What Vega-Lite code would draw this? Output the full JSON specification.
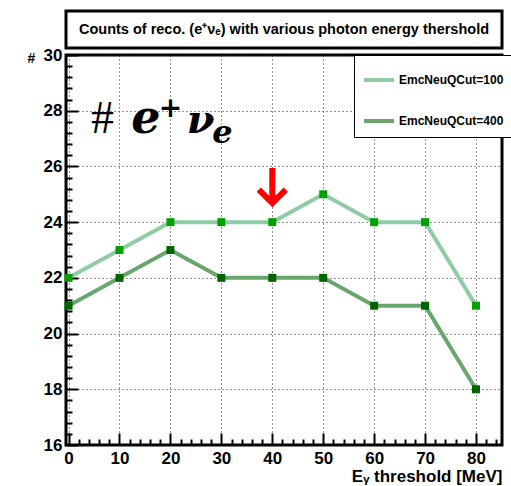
{
  "$schema": "https://vega.github.io/schema/vega-lite/v6.json",
  "padding": {"left": 25, "top": 9, "right": 5, "bottom": 5},
  "spacing": 7,
  "bounds": "flush",
  "background": "white",
  "config": {
    "view": {"stroke": "black", "strokeWidth": 3},
    "axis": {"labelFont": "Liberation Sans", "labelFontWeight": "bold", "labelFontSize": 17, "labelColor": "black", "titleFont": "Liberation Sans", "titleFontWeight": "bold", "titleColor": "black", "domain": false, "tickColor": "black", "tickWidth": 2, "gridColor": "#222", "gridDash": [1, 3], "gridWidth": 1, "labelOverlap": false, "tickCount": 200}
  },
  "resolve": {"legend": {"color": "independent"}},
  "vconcat": [
    {
      "width": 436,
      "height": 37,
      "view": {"stroke": "black", "strokeWidth": 3},
      "data": {"values": [{"title": "Counts of reco. (e⁺νₑ) with various photon energy thershold"}]},
      "mark": {"type": "text", "font": "Liberation Sans", "fontWeight": "bold", "fontSize": 14.5, "color": "black"},
      "encoding": {"text": {"field": "title", "type": "nominal"}}
    },
    {
      "width": 436,
      "height": 390,
      "layer": [
        {
          "data": {"values": [
            {"cut": "EmcNeuQCut=100", "E": 0, "n": 22},
            {"cut": "EmcNeuQCut=100", "E": 10, "n": 23},
            {"cut": "EmcNeuQCut=100", "E": 20, "n": 24},
            {"cut": "EmcNeuQCut=100", "E": 30, "n": 24},
            {"cut": "EmcNeuQCut=100", "E": 40, "n": 24},
            {"cut": "EmcNeuQCut=100", "E": 50, "n": 25},
            {"cut": "EmcNeuQCut=100", "E": 60, "n": 24},
            {"cut": "EmcNeuQCut=100", "E": 70, "n": 24},
            {"cut": "EmcNeuQCut=100", "E": 80, "n": 21},
            {"cut": "EmcNeuQCut=400", "E": 0, "n": 21},
            {"cut": "EmcNeuQCut=400", "E": 10, "n": 22},
            {"cut": "EmcNeuQCut=400", "E": 20, "n": 23},
            {"cut": "EmcNeuQCut=400", "E": 30, "n": 22},
            {"cut": "EmcNeuQCut=400", "E": 40, "n": 22},
            {"cut": "EmcNeuQCut=400", "E": 50, "n": 22},
            {"cut": "EmcNeuQCut=400", "E": 60, "n": 21},
            {"cut": "EmcNeuQCut=400", "E": 70, "n": 21},
            {"cut": "EmcNeuQCut=400", "E": 80, "n": 18}
          ]},
          "layer": [
            {
              "mark": {"type": "line", "strokeWidth": 4},
              "encoding": {
                "x": {"field": "E", "type": "quantitative", "scale": {"domain": [-0.5, 85.1], "nice": false, "zero": false},
                  "axis": {"title": "Eᵧ threshold [MeV]", "titleFontSize": 17, "titleAnchor": "end", "titleBaseline": "top", "titleY": 23, "tickCount": 200,
                    "values": [0,2,4,6,8,10,12,14,16,18,20,22,24,26,28,30,32,34,36,38,40,42,44,46,48,50,52,54,56,58,60,62,64,66,68,70,72,74,76,78,80,82,84],
                    "labelExpr": "datum.value % 10 === 0 ? format(datum.value, 'd') : ''",
                    "tickSize": {"condition": {"test": "datum.value % 10 === 0", "value": -12}, "value": -6},
                    "gridOpacity": {"condition": {"test": "datum.value % 10 === 0", "value": 1}, "value": 0},
                    "labelPadding": 17, "labelFlush": false}},
                "y": {"field": "n", "type": "quantitative", "scale": {"domain": [16, 30], "nice": false, "zero": false},
                  "axis": {"title": "#", "titleAngle": 0, "titleX": -35, "titleY": 3, "titleFontSize": 14, "titleAlign": "center", "titleBaseline": "middle", "tickCount": 200,
                    "values": [16,16.4,16.8,17.2,17.6,18,18.4,18.8,19.2,19.6,20,20.4,20.8,21.2,21.6,22,22.4,22.8,23.2,23.6,24,24.4,24.8,25.2,25.6,26,26.4,26.8,27.2,27.6,28,28.4,28.8,29.2,29.6,30],
                    "labelExpr": "abs(datum.value - round(datum.value/2)*2) < 0.01 ? format(datum.value, 'd') : ''",
                    "tickSize": {"condition": {"test": "abs(datum.value - round(datum.value/2)*2) < 0.01", "value": -12}, "value": -6},
                    "gridOpacity": {"condition": {"test": "abs(datum.value - round(datum.value/2)*2) < 0.01", "value": 1}, "value": 0},
                    "labelPadding": 16, "labelFlush": false}},
                "color": {"field": "cut", "type": "nominal",
                  "scale": {"domain": ["EmcNeuQCut=100", "EmcNeuQCut=400"], "range": ["#8fcca6", "#6aa56e"]},
                  "legend": {"orient": "none", "legendX": 288, "legendY": 0, "title": null, "symbolType": "stroke", "symbolSize": 900, "symbolStrokeWidth": 4,
                    "labelFont": "Liberation Sans", "labelFontWeight": "bold", "labelFontSize": 12, "labelColor": "black", "labelOffset": 3,
                    "fillColor": "white", "strokeColor": "black", "padding": 8, "rowPadding": 16}}
              }
            },
            {
              "mark": {"type": "point", "shape": "square", "filled": true, "size": 64, "opacity": 1},
              "encoding": {
                "x": {"field": "E", "type": "quantitative"},
                "y": {"field": "n", "type": "quantitative"},
                "fill": {"field": "cut", "type": "nominal", "scale": {"domain": ["EmcNeuQCut=100", "EmcNeuQCut=400"], "range": ["#00a000", "#006400"]}, "legend": null}
              }
            }
          ]
        },
        {
          "data": {"values": [{"E": 40, "n": 25.3}]},
          "mark": {"type": "point", "shape": "M0,-1L0,0.9M-0.75,0.2L0,0.95L0.75,0.2", "filled": false, "stroke": "#ff0000", "strokeWidth": 6, "size": 1296, "opacity": 1, "strokeCap": "butt"},
          "encoding": {"x": {"field": "E", "type": "quantitative"}, "y": {"field": "n", "type": "quantitative"}}
        },
        {
          "data": {"values": [{"t": "#", "E": 4.4, "n": 27.2}]},
          "mark": {"type": "text", "align": "left", "baseline": "alphabetic", "font": "Liberation Serif", "fontSize": 46, "color": "black"},
          "encoding": {"x": {"field": "E", "type": "quantitative"}, "y": {"field": "n", "type": "quantitative"}, "text": {"field": "t"}}
        },
        {
          "data": {"values": [{"t": "e", "E": 12.3, "n": 27.2}]},
          "mark": {"type": "text", "align": "left", "baseline": "alphabetic", "font": "DejaVu Serif", "fontStyle": "italic", "fontWeight": "bold", "fontSize": 46, "color": "black"},
          "encoding": {"x": {"field": "E", "type": "quantitative"}, "y": {"field": "n", "type": "quantitative"}, "text": {"field": "t"}}
        },
        {
          "data": {"values": [{"t": "ν", "E": 23.2, "n": 27.2}]},
          "mark": {"type": "text", "align": "left", "baseline": "alphabetic", "font": "DejaVu Serif", "fontStyle": "italic", "fontWeight": "bold", "fontSize": 40, "color": "black"},
          "encoding": {"x": {"field": "E", "type": "quantitative"}, "y": {"field": "n", "type": "quantitative"}, "text": {"field": "t"}}
        },
        {
          "data": {"values": [{"t": "+", "E": 20.0, "n": 28.06}]},
          "mark": {"type": "text", "align": "center", "baseline": "middle", "font": "DejaVu Serif", "fontWeight": "bold", "fontSize": 28, "color": "black"},
          "encoding": {"x": {"field": "E", "type": "quantitative"}, "y": {"field": "n", "type": "quantitative"}, "text": {"field": "t"}}
        },
        {
          "data": {"values": [{"t": "e", "E": 28.2, "n": 26.84}]},
          "mark": {"type": "text", "align": "left", "baseline": "alphabetic", "font": "DejaVu Serif", "fontStyle": "italic", "fontWeight": "bold", "fontSize": 32, "color": "black"},
          "encoding": {"x": {"field": "E", "type": "quantitative"}, "y": {"field": "n", "type": "quantitative"}, "text": {"field": "t"}}
        }
      ]
    }
  ]
}
